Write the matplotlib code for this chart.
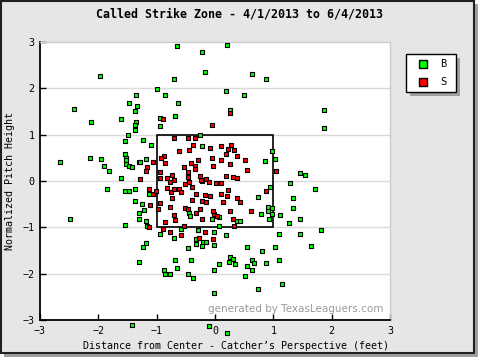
import matplotlib.pyplot as plt
from matplotlib.patches import Rectangle
from matplotlib.lines import Line2D

title = 'Called Strike Zone - 4/1/2013 to 6/4/2013'
xlabel = 'Distance from Center - Catcher\u2019s Perspective (feet)'
ylabel = 'Normalized Pitch Height'
ticks = [-3, -2, -1, 0, 1, 2, 3]
series_names = ['B', 'S']

# balls (green)
b_x = [-1.98, -2.41, -2.12, -1.62, -1.47, -1.50, -1.55, -1.54, -1.52, -1.52,
       -1.52, -1.47, -2.65, -2.15, -1.95, -1.91, -1.81, -1.62, -1.86, -1.54,
       -1.47, -2.48, -1.55, -0.66, -0.23, -0.17, -0.70, -0.99, -0.85, -1.35,
       -1.33, -1.38, -0.63, -0.68, -0.94, -1.35, -1.37, -1.37, -0.95, -1.23,
       -1.09, -0.25, -0.22, -1.42, -1.31, -1.29, -1.19, 0.21, 0.64, 0.88,
       0.19, 0.50, 0.26, 0.97, 1.03, 0.86, 1.45, 1.54, 1.86, 1.86,
       1.72, 1.81, 1.65, 1.29, 1.34, 1.33, 1.46, 1.46, 1.26, 1.12,
       1.10, 1.02, 1.09, 0.88, 0.81, 0.64, 0.66, 0.64, 0.55, 0.52,
       0.73, 1.14, 0.54, 0.26, 0.30, 0.24, 0.35, 0.07, -0.02, -0.02,
       0.18, 0.74, 0.91, 0.98, 0.91, 0.98, 0.93, 0.95, 0.78, 0.37,
       0.43, 0.06, 0.07, -1.13, -1.38, -1.37, -1.26, -1.21, -1.31, -1.30,
       -1.18, -1.16, -0.44, -0.43, -0.06, -0.58, -0.71, -0.94, -0.30, -0.01,
       -0.32, -0.20, -0.15, -0.32, -0.22, -0.01, -0.46, -1.19, -1.23, -1.31,
       -0.68, -0.41, -0.65, -0.87, -0.85, -0.77, -0.47, -0.37, -1.43, -0.10,
       0.21]
b_y = [2.26, 1.55, 1.27, 1.34, 1.68, 0.99, 0.86, 0.58, 0.49, 0.45,
       0.36, 0.32, 0.40, 0.49, 0.47, 0.32, 0.21, 0.06, -0.18, -0.22,
       -0.22, -0.83, -0.96, 2.91, 2.78, 2.35, 2.20, 1.98, 1.85, 1.85,
       1.61, 1.50, 1.68, 1.40, 1.35, 1.27, 1.20, 1.09, 1.18, 0.88,
       0.77, 0.99, 0.75, 0.30, 0.40, 0.42, 0.47, 2.93, 2.30, 2.20,
       1.94, 1.85, 1.53, 0.64, 0.47, 0.43, 0.17, 0.14, 1.53, 1.14,
       -0.18, -1.06, -1.41, -0.05, -0.37, -0.59, -0.81, -1.15, -0.91, -0.74,
       -1.15, -1.43, -1.71, -1.78, -1.52, -1.71, -1.78, -1.93, -1.84, -2.04,
       -2.34, -2.23, -1.43, -1.63, -1.69, -1.75, -1.80, -1.80, -1.93, -2.42,
       -1.17, -0.35, -0.57, -0.59, -0.65, -0.72, -0.81, -0.14, -0.72, -0.87,
       -0.87, -0.98, -0.78, -0.29, -0.18, -0.44, -0.50, -0.63, -0.70, -0.81,
       -0.87, -0.98, -0.68, -0.76, -0.83, -1.04, -1.22, -1.15, -1.06, -1.11,
       -1.26, -1.32, -1.32, -1.37, -1.41, -1.39, -1.45, -1.34, -1.43, -1.75,
       -1.71, -1.71, -1.88, -1.93, -2.01, -2.01, -2.01, -2.10, -3.10, -3.14,
       -3.29]

# strikes (red)
s_x = [-0.90, -0.05, -0.70, -0.46, -0.35, -0.37, -0.44, -0.61, -0.08, -0.05,
       -0.30, -0.03, -0.87, -0.92, -0.85, -1.06, -1.16, -1.18, -1.28, -0.94,
       -0.95, -0.82, -0.73, -0.70, -0.53, -0.42, -0.35, -0.35, -0.46, -0.46,
       -0.25, -0.15, 0.26, 0.11, 0.23, 0.28, 0.33, 0.18, 0.38, 0.11,
       0.52, 0.25, 0.55, 0.18, 0.31, 0.38, 1.05, 0.01, 0.11, 0.23,
       0.11, 0.21, 0.38, 0.43, 0.14, 0.88, 0.61, 0.25, -0.02, 0.04,
       0.31, 0.33, -0.78, -0.51, -0.44, -0.39, -0.22, -0.11, -0.82, -0.75,
       -0.70, -0.61, -0.59, -1.13, -1.06, -1.01, -1.11, -0.94, -0.97, -1.13,
       -0.73, -0.77, -0.71, -0.68, -0.85, -0.51, -0.46, -0.39, -0.32, -0.18,
       -0.08, -0.22, -0.15, -0.25, -0.32, -0.03, -0.22, -0.89, -0.78, -0.54,
       -0.59, -0.18, -0.27, -0.03, -0.24]
s_y = [1.33, 1.20, 0.92, 0.92, 0.92, 0.77, 0.66, 0.64, 0.71, 0.49,
       0.45, 0.32, 0.53, 0.49, 0.38, 0.40, 0.30, 0.21, 0.04, 0.19,
       0.06, 0.06, 0.12, 0.02, 0.30, 0.38, 0.32, 0.25, 0.19, 0.08,
       0.10, 0.04, 1.46, 0.75, 0.68, 0.77, 0.66, 0.58, 0.55, 0.45,
       0.45, 0.36, 0.23, 0.10, 0.08, 0.06, 0.21, -0.05, -0.05, -0.20,
       -0.29, -0.33, -0.37, -0.46, -0.46, -0.22, -0.65, -0.65, -0.72, -0.76,
       -0.81, -0.98, -0.03, -0.07, -0.03, -0.14, -0.01, -0.03, -0.16, -0.24,
       -0.18, -0.18, -0.24, -0.18, -0.27, -0.22, -0.52, -0.48, -0.61, -1.00,
       -0.37, -0.57, -0.74, -0.85, -0.89, -0.59, -0.61, -0.40, -0.27, -0.31,
       -0.33, -0.44, -0.46, -0.61, -0.70, -0.65, -0.83, -1.04, -1.09, -0.98,
       -1.17, -1.09, -1.22, -1.26, 0.02]

W, H = 480, 360
plt.rcParams['font.family'] = 'DejaVu Sans Mono'


def fx(px):
    return px / W


def fy(py):
    return 1 - py / H


fig = plt.figure(figsize=(4.8, 3.6), dpi=100)
fig.patch.set_facecolor('white')

# outer frame with drop shadow
fig.add_artist(Rectangle((fx(4), fy(357)), 474 / W, 353 / H, transform=fig.transFigure,
                         facecolor='#a0a0a0', edgecolor='none', zorder=-2))
fig.add_artist(Rectangle((fx(0.5), fy(353)), 473.5 / W, 352.5 / H, transform=fig.transFigure,
                         facecolor='#e6e6e6', edgecolor='#202020', lw=1.5, zorder=-1))

ax = fig.add_axes([fx(40), fy(320), 350 / W, 278 / H])
ax.set_facecolor('white')
ax.set_xlim(-3, 3)
ax.set_ylim(-3, 3)
ax.set_xticks(ticks)
ax.set_yticks(ticks)
ax.tick_params(direction='in', length=4, width=1, labelsize=7.2, pad=4)
for side in ['left', 'bottom']:
    ax.spines[side].set_color('black')
    ax.spines[side].set_linewidth(1.3)
for side in ['top', 'right']:
    ax.spines[side].set_color('#cccccc')
    ax.spines[side].set_linewidth(1)

for y in ticks[1:-1]:
    ax.axhline(y, color='#dadada', lw=1, zorder=0)

# strike zone
ax.add_patch(Rectangle((-1, -1), 2, 2, fill=False, edgecolor='black', lw=1.2, zorder=2))

ax.scatter(b_x, b_y, marker='s', s=11, c='#00ff00', edgecolors='black',
           linewidths=0.8, zorder=3, clip_on=False)
ax.scatter(s_x, s_y, marker='s', s=11, c='#ff0000', edgecolors='black',
           linewidths=0.8, zorder=4, clip_on=False)

fig.text(fx(240), fy(14), title, ha='center', va='center', fontsize=8.4, fontweight='bold')
fig.text(fx(236), fy(346), xlabel, ha='center', va='center', fontsize=7.2)
fig.text(fx(10), fy(181), ylabel, ha='center', va='center', rotation=90, fontsize=7.2)
fig.text(fx(383), fy(309), 'generated by TexasLeaguers.com', ha='right', va='center',
         fontsize=7.5, color='#9a9a9a', family='DejaVu Sans')

# legend box
fig.add_artist(Rectangle((fx(410), fy(96)), 50 / W, 38 / H, transform=fig.transFigure,
                         facecolor='#a0a0a0', edgecolor='none', zorder=5))
fig.add_artist(Rectangle((fx(406), fy(92)), 50 / W, 38 / H, transform=fig.transFigure,
                         facecolor='white', edgecolor='black', lw=1, zorder=6))
colors = ['#00ff00', '#ff0000']
for i, name in enumerate(series_names):
    yy = fy(64 + 18 * i)
    fig.add_artist(Line2D([fx(423)], [yy], marker='s', ms=6, mfc=colors[i], mec='black',
                          mew=1, transform=fig.transFigure, zorder=7))
    fig.text(fx(443), yy, name, ha='center', va='center', fontsize=7.5, zorder=7)

fig.savefig('out.png', dpi=100)
